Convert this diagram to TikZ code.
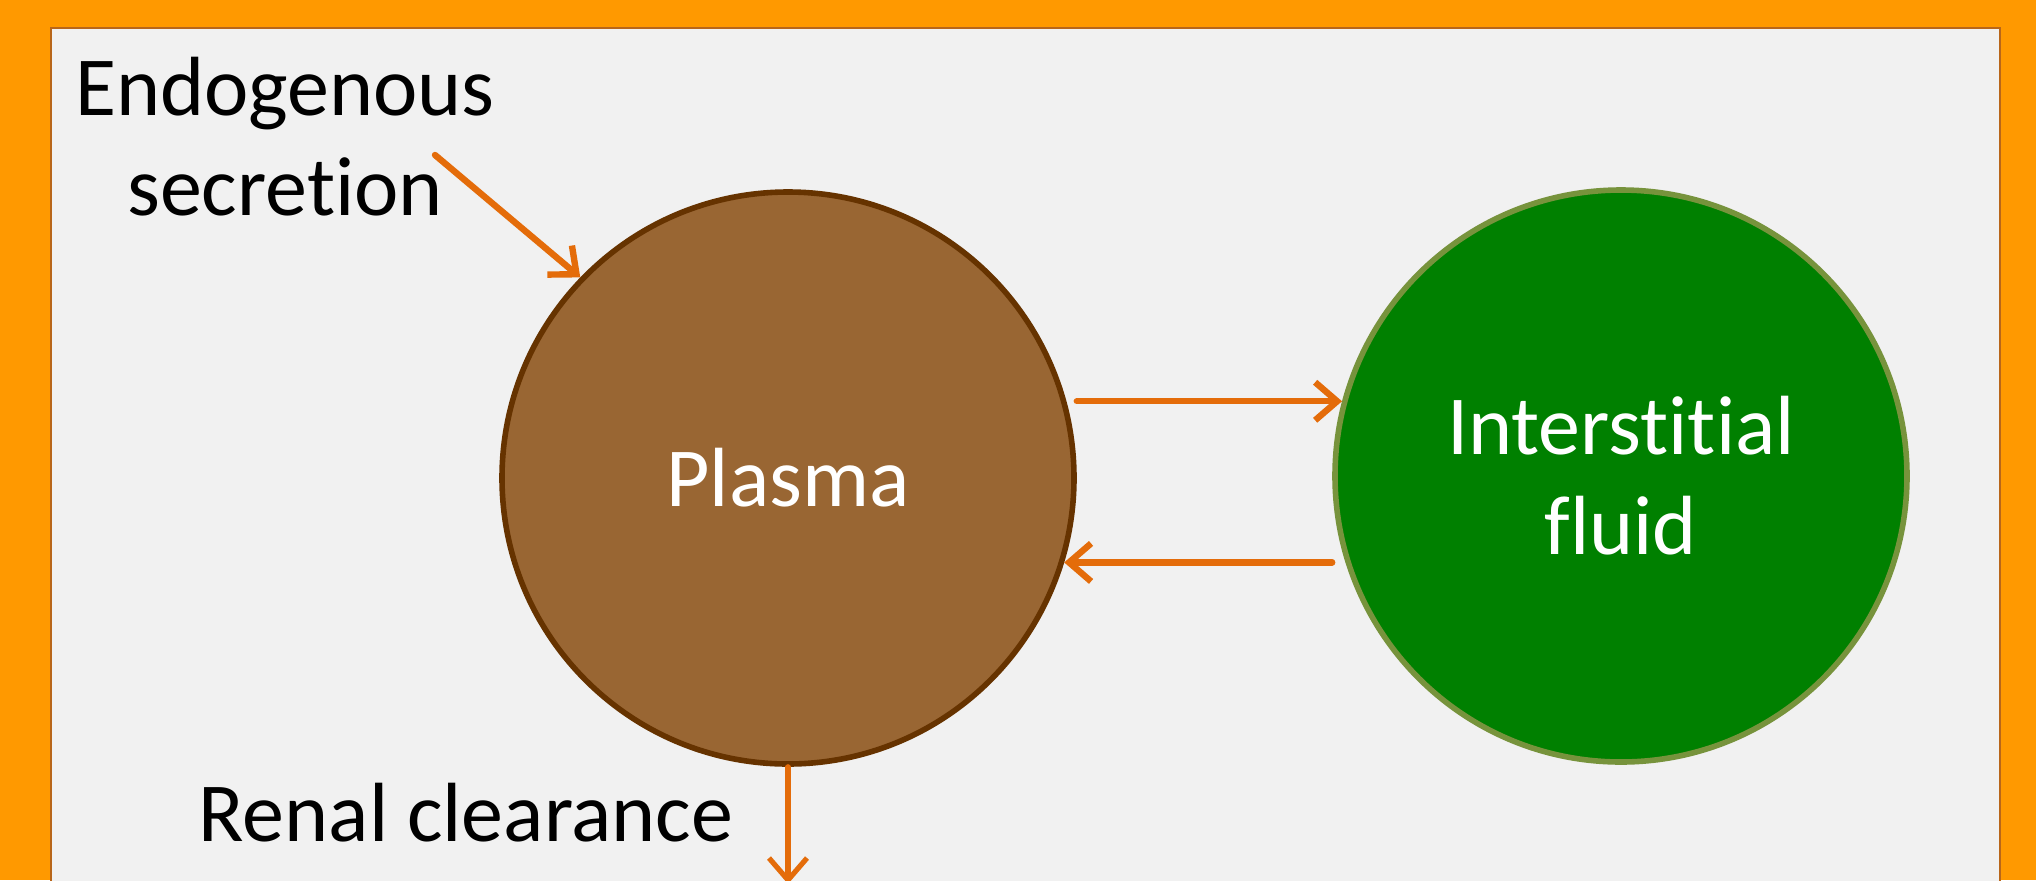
\documentclass[tikz,border=0pt]{standalone}
\usepackage{fontspec}
\setmainfont[Ligatures=NoCommon]{Carlito}
\usepackage{xcolor}
\usepackage{tikz}
\usetikzlibrary{arrows.meta}

\definecolor{slideorange}{HTML}{FF9900}
\definecolor{panelgray}{HTML}{F1F1F1}
\definecolor{panelrim}{HTML}{B8661A}
\definecolor{floworange}{HTML}{E46C0A}
\definecolor{plasmabrown}{HTML}{996633}
\definecolor{plasmarim}{HTML}{663300}
\definecolor{fluidgreen}{HTML}{008000}
\definecolor{fluidrim}{HTML}{77933C}

\begin{document}
\begin{tikzpicture}[x=0.5pt,y=-0.5pt,
    font=\fontsize{42pt}{50pt}\selectfont,
    flow/.style={-{Straight Barb[length=11pt,width=19pt]}, line width=3.2pt, draw=floworange, line cap=round},
    pool/.style={circle, minimum size=286pt, inner sep=0pt, line width=2.8pt, text=white, align=center},
    caption/.style={align=center, text=black}]
    \useasboundingbox (0,0) rectangle (2036,880);
    \fill[slideorange] (0,0) rectangle (2036,880);
    \draw[panelrim, fill=panelgray, line width=1.2pt] (51,28) rectangle (2000,920);

    \node[pool, fill=plasmabrown, draw=plasmarim] (plasma) at (788,478) {Plasma};
    \node[pool, fill=fluidgreen, draw=fluidrim] (fluid) at (1621,476) {Interstitial\\fluid};

    \node[caption] (secretion) at (285,137) {Endogenous\\secretion};
    \node[caption, anchor=base] (renal) at (466,841) {Renal clearance};

    \coordinate (secstart) at (435,155);
    \coordinate (renalend) at (788,884);

    \draw[flow] (secstart) -- (plasma.136);
    \draw[flow] (fluid.165 -| plasma.east) -- (fluid.165);
    \draw[flow] (plasma.-17 -| fluid.west) -- (plasma.-17);
    \draw[flow, line width=2.6pt] (plasma.south) -- (renalend);
\end{tikzpicture}
\end{document}
